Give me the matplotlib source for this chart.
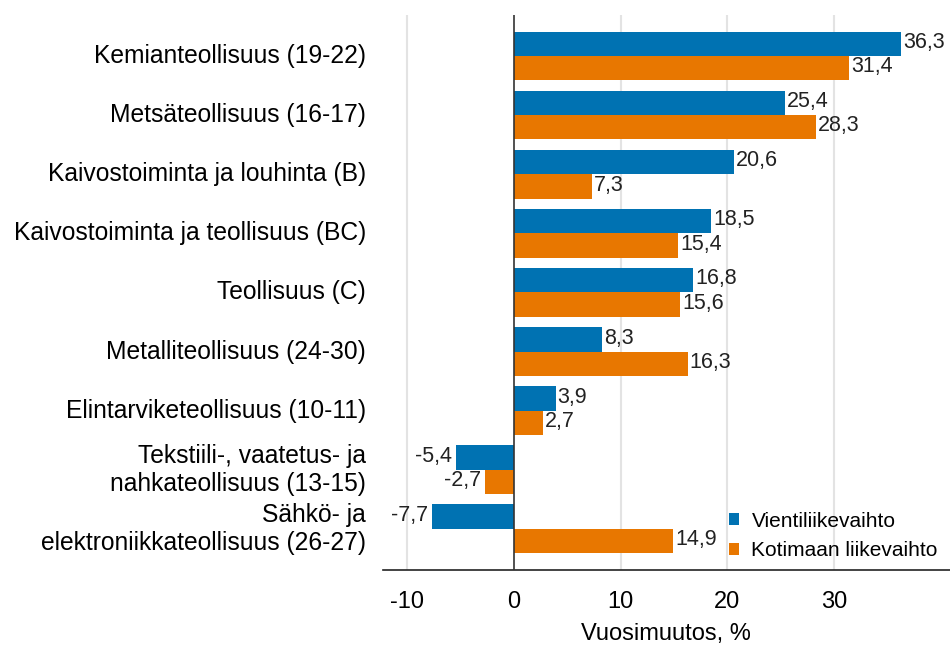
import matplotlib
matplotlib.use('Agg')
import matplotlib.pyplot as plt
import numpy as np

plt.rcParams['font.family'] = ['Liberation Sans', 'DejaVu Sans']

# Data
categories = ['Kemianteollisuus (19-22)', 'Metsäteollisuus (16-17)',
              'Kaivostoiminta ja louhinta (B)', 'Kaivostoiminta ja teollisuus (BC)',
              'Teollisuus (C)', 'Metalliteollisuus (24-30)',
              'Elintarviketeollisuus (10-11)',
              'Tekstiili-, vaatetus- ja\nnahkateollisuus (13-15)',
              'Sähkö- ja\nelektroniikkateollisuus (26-27)']
vienti = [36.3, 25.4, 20.6, 18.5, 16.8, 8.3, 3.9, -5.4, -7.7]
kotimaa = [31.4, 28.3, 7.3, 15.4, 15.6, 16.3, 2.7, -2.7, 14.9]
series_names = ['Vientiliikevaihto', 'Kotimaan liikevaihto']
xticks = [-10, 0, 10, 20, 30]

blue = '#0072b2'
orange = '#e87700'

fig = plt.figure(figsize=(9.5, 6.46), dpi=100)
ax = fig.add_axes([0.403, 0.1176, 0.597, 0.8594])

y = np.arange(len(categories))
h = 0.41
b1 = ax.barh(y - h / 2, vienti, height=h, color=blue, label=series_names[0], zorder=3)
b2 = ax.barh(y + h / 2, kotimaa, height=h, color=orange, label=series_names[1], zorder=3)

def fmt(v):
    return ('%.1f' % v).replace('.', ',')

for bars, vals in ((b1, vienti), (b2, kotimaa)):
    for rect, v in zip(bars, vals):
        yc = rect.get_y() + rect.get_height() / 2
        if v >= 0:
            ax.annotate(fmt(v), (v, yc), xytext=(1.5, 1), textcoords='offset points',
                        ha='left', va='center', fontsize=15.5, color='#222222')
        else:
            ax.annotate(fmt(v), (v, yc), xytext=(-3, 1), textcoords='offset points',
                        ha='right', va='center', fontsize=15.5, color='#222222')

ax.set_xlim(-12.3, 40.9)
ax.set_ylim(8.7, -0.7)
ax.set_yticks(y)
ax.set_yticklabels(categories, fontsize=17.7, linespacing=1.2, va='center')
ax.set_xticks(xticks)
ax.set_xticklabels([str(t) for t in xticks], fontsize=17)
ax.tick_params(axis='y', length=0, pad=12)
ax.tick_params(axis='x', length=0, pad=15)

for t in xticks:
    if t != 0:
        ax.axvline(t, color='#e3e3e3', lw=1.5, zorder=1)
ax.axvline(0, color='#333333', lw=1.2, zorder=4)

for s in ['top', 'right', 'left']:
    ax.spines[s].set_visible(False)
ax.spines['bottom'].set_color('#222222')
ax.spines['bottom'].set_linewidth(1.2)

ax.set_xlabel('Vuosimuutos, %', fontsize=17, labelpad=7)

leg = ax.legend(loc='lower right', bbox_to_anchor=(1.008, -0.012), frameon=False,
                fontsize=15, handlelength=0.5, handleheight=0.5,
                handletextpad=0.6, labelspacing=0.5, borderaxespad=0.4)

fig.savefig('out.png', dpi=100)
